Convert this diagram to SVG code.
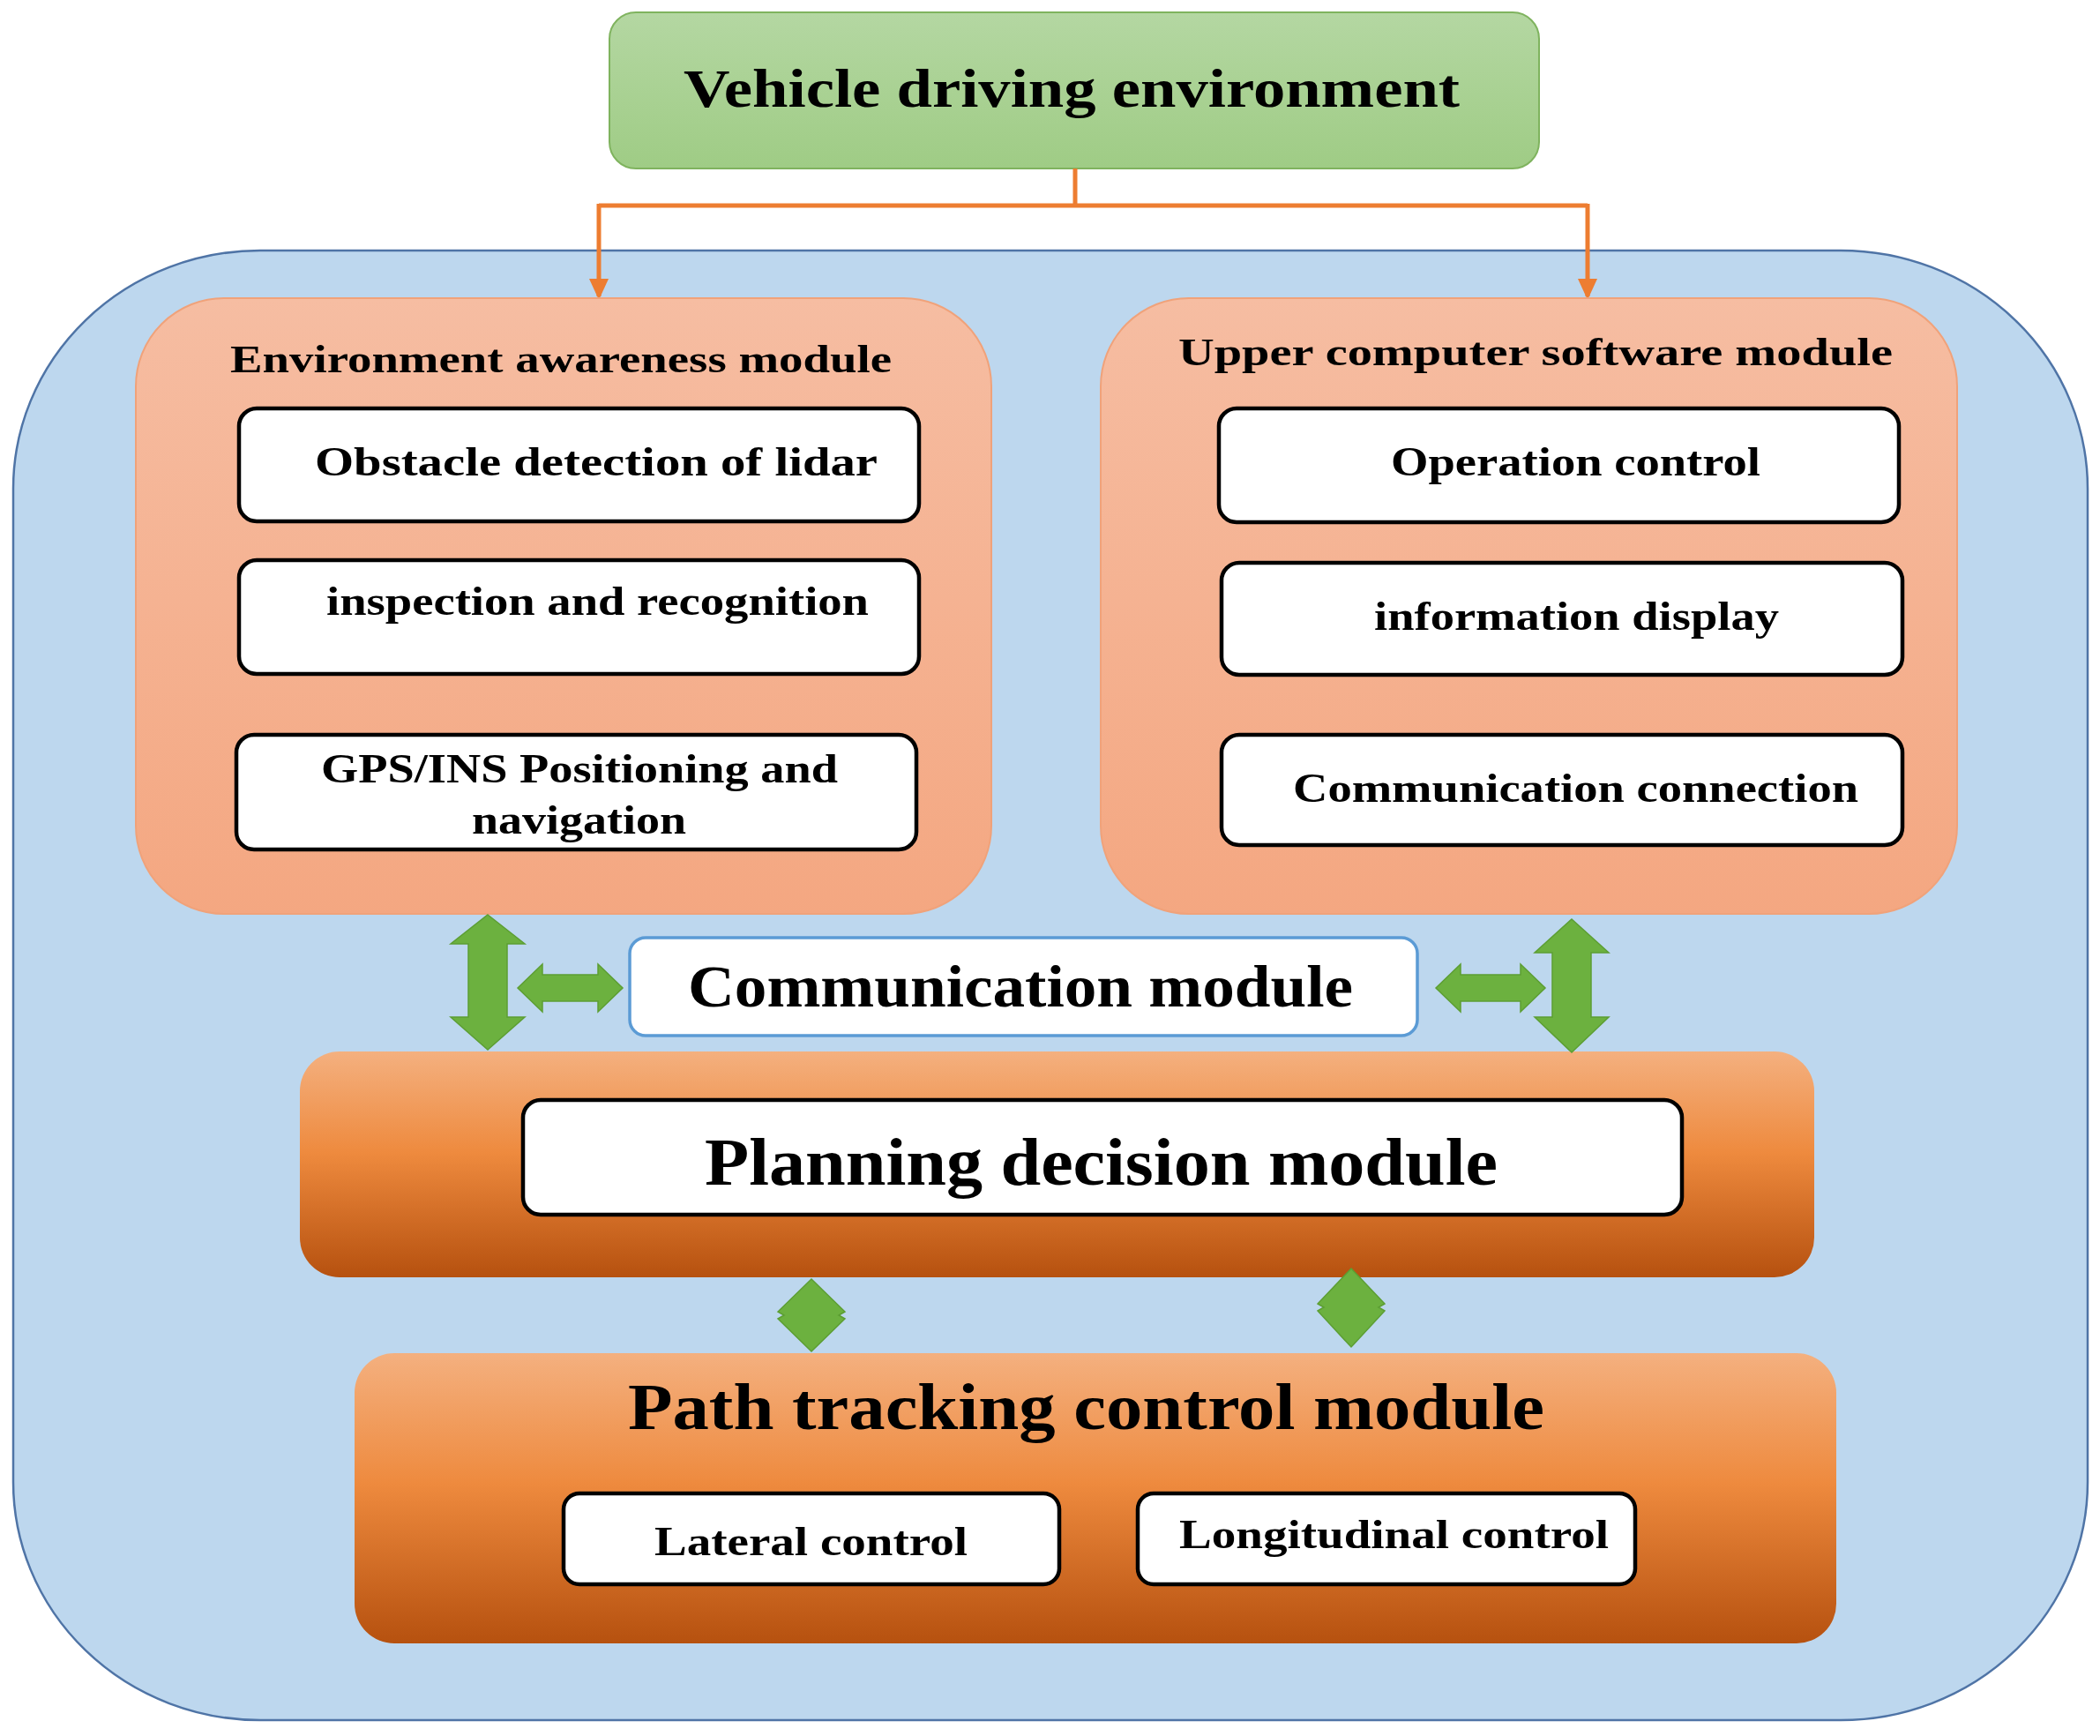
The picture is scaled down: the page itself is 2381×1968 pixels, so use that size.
<svg xmlns="http://www.w3.org/2000/svg" width="2381" height="1968" viewBox="0 0 2381 1968">
<defs>
<linearGradient id="gGreen" x1="0" y1="0" x2="0" y2="1"><stop offset="0" stop-color="#b4d7a2"/><stop offset="1" stop-color="#9fcc85"/></linearGradient>
<linearGradient id="gSalmon" x1="0" y1="0" x2="0" y2="1"><stop offset="0" stop-color="#f6bda2"/><stop offset="1" stop-color="#f4a781"/></linearGradient>
<linearGradient id="gOrange" x1="0" y1="0" x2="0" y2="1"><stop offset="0" stop-color="#f4b07f"/><stop offset="0.45" stop-color="#ee8a3e"/><stop offset="1" stop-color="#b6510f"/></linearGradient>
<marker id="oa" markerUnits="userSpaceOnUse" markerWidth="24" markerHeight="22" viewBox="0 0 24 22" refX="20" refY="11" orient="auto"><path d="M0,0 L24,11 L0,22 Z" fill="#ed7d31"/></marker>
</defs>
<style>
.t{font-family:"Liberation Serif","Times New Roman",serif;font-weight:bold;fill:#000}
.wb{fill:#fff;stroke:#000;stroke-width:4.5}
.ga{fill:#6cb13f;stroke:#5c9e33;stroke-width:1.5}
</style>
<rect width="2381" height="1968" fill="#fff"/>
<g id="outer"><rect x="15" y="284" width="2352" height="1666" rx="280" ry="270" fill="#bdd7ee" stroke="#4f74a6" stroke-width="2.5"/></g>
<g id="vehicle-env"><rect x="691" y="14" width="1054" height="177" rx="30" fill="url(#gGreen)" stroke="#7fb35e" stroke-width="2"/><text class="t" x="775" y="121" font-size="62" textLength="880" lengthAdjust="spacingAndGlyphs">Vehicle driving environment</text></g>
<g id="connectors" fill="none" stroke="#ed7d31" stroke-width="5">
<path d="M1219,191 V233"/>
<path d="M679,233 H1800"/>
<path d="M679,231 V336" marker-end="url(#oa)"/>
<path d="M1800,231 V336" marker-end="url(#oa)"/>
</g>
<g id="env-awareness">
<rect x="154" y="338" width="970" height="698" rx="100" fill="url(#gSalmon)" stroke="#f0a27a" stroke-width="2"/>
<text class="t" x="261" y="422" font-size="44" textLength="750" lengthAdjust="spacingAndGlyphs">Environment awareness module</text>
<g id="lidar"><rect class="wb" x="271" y="463" width="771" height="128" rx="20"/><text class="t" x="357" y="539" font-size="46" textLength="638" lengthAdjust="spacingAndGlyphs">Obstacle  detection  of  lidar</text></g>
<g id="inspection"><rect class="wb" x="271" y="635" width="771" height="129" rx="20"/><text class="t" x="370" y="697" font-size="46" textLength="615" lengthAdjust="spacingAndGlyphs">inspection and recognition</text></g>
<g id="gps"><rect class="wb" x="268" y="833" width="771" height="130" rx="20"/><text class="t" x="364" y="887" font-size="46" textLength="586" lengthAdjust="spacingAndGlyphs">GPS/INS Positioning and</text><text class="t" x="535" y="945" font-size="46" textLength="243" lengthAdjust="spacingAndGlyphs">navigation</text></g>
</g>
<g id="upper-computer">
<rect x="1248" y="338" width="971" height="698" rx="100" fill="url(#gSalmon)" stroke="#f0a27a" stroke-width="2"/>
<text class="t" x="1336" y="414" font-size="44" textLength="810" lengthAdjust="spacingAndGlyphs">Upper  computer  software  module</text>
<g id="operation"><rect class="wb" x="1382" y="463" width="771" height="129" rx="20"/><text class="t" x="1577" y="539" font-size="46" textLength="419" lengthAdjust="spacingAndGlyphs">Operation control</text></g>
<g id="info-display"><rect class="wb" x="1385" y="638" width="772" height="127" rx="20"/><text class="t" x="1558" y="714" font-size="46" textLength="459" lengthAdjust="spacingAndGlyphs">information display</text></g>
<g id="comm-connection"><rect class="wb" x="1385" y="833" width="772" height="125" rx="20"/><text class="t" x="1466" y="909" font-size="46" textLength="641" lengthAdjust="spacingAndGlyphs">Communication connection</text></g>
</g>
<g id="comm-module"><rect x="714" y="1063" width="893" height="111" rx="18" fill="#fff" stroke="#5b9bd5" stroke-width="3.5"/><text class="t" x="780" y="1141" font-size="68" textLength="754" lengthAdjust="spacingAndGlyphs">Communication module</text></g>
<g id="planning"><rect x="340" y="1192" width="1717" height="256" rx="45" fill="url(#gOrange)"/><rect class="wb" x="593" y="1247" width="1314" height="130" rx="20"/><text class="t" x="799" y="1343" font-size="76" textLength="899" lengthAdjust="spacingAndGlyphs">Planning decision module</text></g>
<g id="path-tracking"><rect x="402" y="1534" width="1680" height="329" rx="45" fill="url(#gOrange)"/>
<text class="t" x="712" y="1620" font-size="73" textLength="1039" lengthAdjust="spacingAndGlyphs">Path tracking control module</text>
<g id="lateral"><rect class="wb" x="639" y="1693" width="562" height="103" rx="18"/><text class="t" x="742" y="1763" font-size="47" textLength="355" lengthAdjust="spacingAndGlyphs">Lateral control</text></g>
<g id="longitudinal"><rect class="wb" x="1290" y="1693" width="564" height="103" rx="18"/><text class="t" x="1337" y="1755" font-size="47" textLength="487" lengthAdjust="spacingAndGlyphs">Longitudinal control</text></g>
</g>
<g id="green-arrows">
<polygon class="ga" points="553,1037 595,1070 575,1070 575,1153 595,1153 553,1190 511,1153 531,1153 531,1070 511,1070"/>
<polygon class="ga" points="587,1120 615,1093 615,1105 678,1105 678,1093 706,1120 678,1147 678,1135 615,1135 615,1147"/>
<polygon class="ga" points="1628,1120 1656,1093 1656,1105 1724,1105 1724,1093 1752,1120 1724,1147 1724,1135 1656,1135 1656,1147"/>
<polygon class="ga" points="1782,1042 1824,1080 1804,1080 1804,1153 1824,1153 1782,1193 1740,1153 1760,1153 1760,1080 1740,1080"/>
<polygon class="ga" points="920,1450 958,1487 951,1491 958,1495 920,1532 882,1495 889,1491 882,1487"/>
<polygon class="ga" points="1532,1438 1570,1478 1563,1482 1570,1486 1532,1527 1494,1486 1501,1482 1494,1478"/>
</g>
</svg>
